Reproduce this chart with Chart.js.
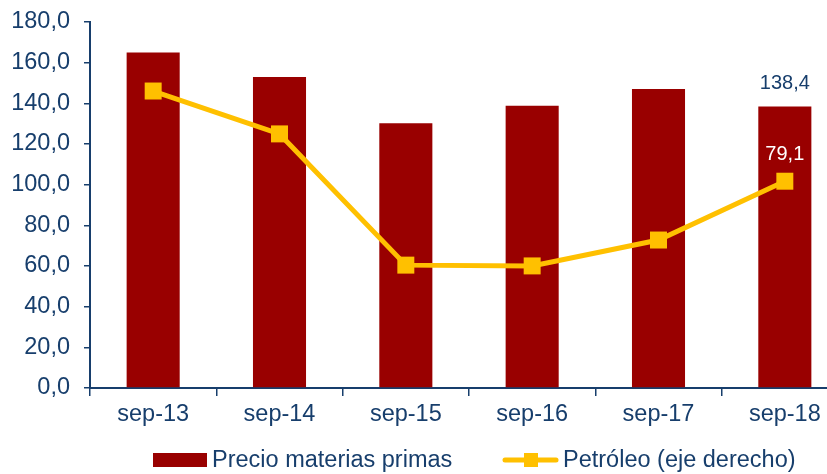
<!DOCTYPE html>
<html>
<head>
<meta charset="utf-8">
<script src="https://cdn.jsdelivr.net/npm/chart.js@4/dist/chart.umd.min.js"></script>
<style>
  html, body { margin: 0; padding: 0; background: #fff; }
  #wrap { width: 827px; height: 474px; overflow: hidden; position: relative; }
</style>
</head>
<body>
<div id="wrap"><canvas id="myChart" width="860" height="474"></canvas></div>
<script>
const categories = ['sep-13', 'sep-14', 'sep-15', 'sep-16', 'sep-17', 'sep-18'];
const precioMaterias = [165.0, 153.0, 130.2, 138.8, 147.0, 138.4];
const petroleo = [113.6, 97.2, 47.0, 46.7, 56.6, 79.1];
const leftAxis = { min: 0, max: 180, step: 20 };
const rightAxis = { min: 0, max: 140 };
const seriesNames = ['Precio materias primas', 'Petróleo (eje derecho)'];

const navy = '#173E6C';
const barColor = '#990000';
const lineColor = '#FFC000';
const fontFam = '"Liberation Sans", Arial, sans-serif';

function fmt(v) {
	return v.toFixed(1).replace('.', ',');
}

// etiquetas del ultimo punto y leyenda propia
const extras = {
	id: 'extras',
	afterDatasetsDraw(chart) {
		const ctx = chart.ctx;
		const bars = chart.getDatasetMeta(1).data;
		const pts = chart.getDatasetMeta(0).data;
		const last = categories.length - 1;
		ctx.save();
		ctx.font = '20px ' + fontFam;
		ctx.textAlign = 'center';
		ctx.textBaseline = 'middle';
		ctx.fillStyle = navy;
		ctx.fillText(fmt(precioMaterias[last]), bars[last].x, bars[last].y - 23);
		ctx.fillStyle = '#ffffff';
		ctx.fillText(fmt(petroleo[last]), pts[last].x, pts[last].y - 27);
		ctx.restore();
	},
	afterDraw(chart) {
		const ctx = chart.ctx;
		const a = chart.chartArea;
		const y = 460;
		ctx.save();
		ctx.font = '23.5px ' + fontFam;
		ctx.textBaseline = 'middle';
		ctx.textAlign = 'left';
		// barra
		let x = a.left + 63;
		ctx.fillStyle = barColor;
		ctx.fillRect(x, y - 7, 54, 14);
		ctx.fillStyle = navy;
		ctx.fillText(seriesNames[0], x + 59, y + 1);
		// linea
		x = a.left + 413;
		ctx.strokeStyle = lineColor;
		ctx.lineWidth = 5;
		ctx.lineCap = 'round';
		ctx.beginPath();
		ctx.moveTo(x + 2, y);
		ctx.lineTo(x + 53, y);
		ctx.stroke();
		ctx.fillStyle = lineColor;
		ctx.fillRect(x + 21, y - 7, 14, 14);
		ctx.fillStyle = navy;
		ctx.fillText(seriesNames[1], x + 60, y + 1);
		ctx.restore();
	}
};

const canvas = document.getElementById('myChart').getContext('2d');
const chartConfig = {
	type: 'bar',
	data: {
		labels: categories,
		datasets: [
			{
				type: 'line',
				label: seriesNames[1],
				data: petroleo,
				yAxisID: 'y1',
				borderColor: lineColor,
				backgroundColor: lineColor,
				borderWidth: 5,
				pointStyle: 'rect',
				pointRadius: 12,
				pointBorderWidth: 0,
				tension: 0,
				order: 1,
			},
			{
				label: seriesNames[0],
				data: precioMaterias,
				yAxisID: 'y',
				backgroundColor: barColor,
				borderWidth: 0,
				barPercentage: 0.84,
				categoryPercentage: 0.5,
				order: 2,
			},
		],
	},
	options: {
		responsive: false,
		animation: false,
		devicePixelRatio: 1,
		layout: { padding: { top: 22, right: 12, left: 0, bottom: 46 } },
		plugins: {
			legend: { display: false },
			tooltip: { enabled: false },
		},
		scales: {
			x: {
				afterFit: (s) => { s.height = 40; s.paddingLeft = 0; s.paddingRight = 0; },
				grid: {
					offset: true,
					drawOnChartArea: false,
					color: navy,
					lineWidth: 1.5,
					tickLength: 8,
				},
				border: { color: navy, width: 2 },
				ticks: {
					color: navy,
					padding: 4,
					font: { family: fontFam, size: 23.5 },
				},
			},
			y: {
				position: 'left',
				min: leftAxis.min,
				max: leftAxis.max,
				afterFit: (s) => { s.width = 90; s.paddingTop = 0; s.paddingBottom = 0; },
				grid: {
					drawOnChartArea: false,
					color: navy,
					lineWidth: 1.5,
					tickLength: 6,
				},
				border: { color: navy, width: 2 },
				ticks: {
					stepSize: leftAxis.step,
					color: navy,
					padding: 14,
					font: { family: fontFam, size: 23.5 },
					callback: (v) => fmt(v),
				},
			},
			y1: {
				position: 'right',
				display: false,
				min: rightAxis.min,
				max: rightAxis.max,
			},
		},
	},
	plugins: [extras],
};
let myChart = new Chart(canvas, chartConfig);
</script>
</body>
</html>
